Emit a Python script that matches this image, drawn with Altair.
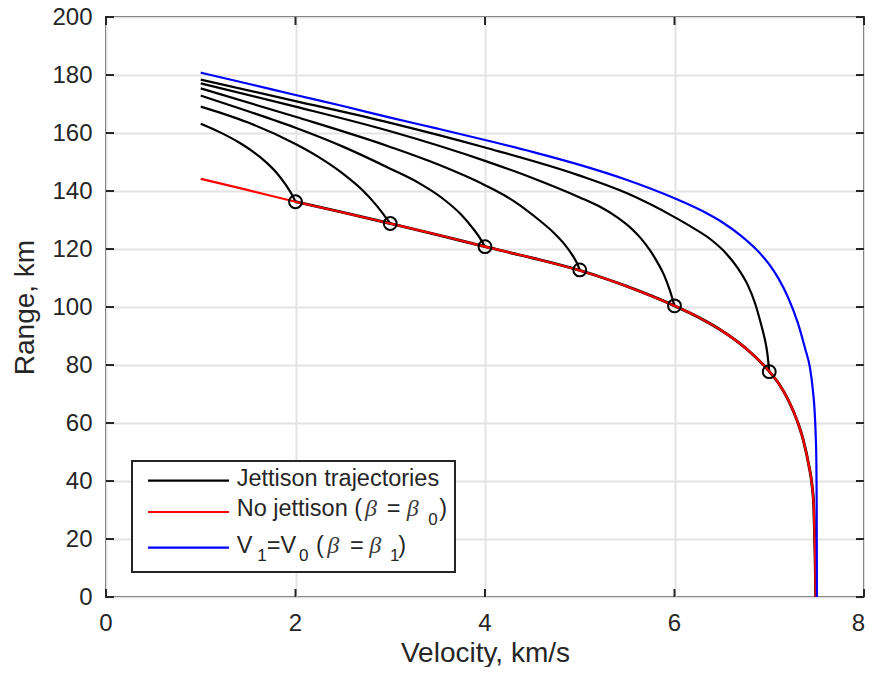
import altair as alt
import pandas as pd

# ---------------- data ----------------
X_TICKS = [0, 2, 4, 6, 8]
Y_TICKS = [0, 20, 40, 60, 80, 100, 120, 140, 160, 180, 200]

# No jettison (beta = beta0)  -- red
RED_V = [1.0, 1.5, 2.0, 2.5, 3.0, 3.5, 4.0, 4.5, 5.0, 5.25, 5.5, 5.75, 6.0, 6.25, 6.5,
         6.75, 7.0, 7.1, 7.2, 7.3, 7.36, 7.42, 7.45, 7.47, 7.478, 7.484, 7.488, 7.49]
RED_R = [144.2, 140.3, 136.3, 132.6, 128.8, 124.9, 120.8, 116.9, 112.6, 110.0, 107.1,
         103.9, 100.4, 96.5, 91.8, 85.8, 77.8, 73.6, 68.0, 60.3, 54.0, 45.0, 39.0, 31.0,
         22.0, 14.0, 6.0, 0.0]

# V1 = V0 (beta = beta1)  -- blue
BLUE_V = [1.0, 1.5, 2.0, 2.5, 3.0, 3.5, 4.0, 4.5, 5.0, 5.5, 6.0, 6.3, 6.5, 6.7, 6.9,
          7.0, 7.1, 7.2, 7.3, 7.38, 7.43, 7.46, 7.48, 7.49, 7.497, 7.5, 7.502, 7.503]
BLUE_R = [180.8, 177.0, 173.1, 169.3, 165.3, 161.5, 157.6, 153.5, 149.0, 143.8, 137.5,
          133.0, 129.3, 124.6, 118.6, 114.7, 109.7, 103.2, 94.7, 85.5, 79.0, 71.5, 63.5,
          56.0, 47.0, 35.0, 15.0, 0.0]

# Jettison trajectories -- black
J1_V = [1.0, 1.2, 1.4, 1.55, 1.7, 1.8, 1.9, 1.96, 2.0]
J1_R = [163.2, 160.3, 156.8, 153.6, 149.6, 146.3, 142.0, 138.9, 136.3]

J2_V = [1.0, 1.25, 1.5, 2.0, 2.25, 2.5, 2.7, 2.85, 2.95, 3.0]
J2_R = [169.1, 166.5, 163.6, 156.2, 151.6, 146.0, 140.5, 135.2, 131.0, 128.8]

J3_V = [1.0, 1.5, 2.0, 2.5, 3.0, 3.3, 3.55, 3.75, 3.87, 3.95, 4.0]
J3_R = [172.9, 167.5, 161.8, 155.3, 147.7, 142.8, 137.5, 131.8, 127.2, 123.6, 120.8]

J4_V = [1.0, 2.0, 3.0, 3.5, 4.0, 4.3, 4.57, 4.72, 4.84, 4.92, 4.97, 5.0]
J4_R = [175.4, 165.6, 155.2, 149.2, 142.0, 136.6, 130.0, 125.8, 121.6, 118.0, 115.2, 112.8]

J5_V = [1.0, 2.0, 3.0, 4.0, 4.5, 5.0, 5.2, 5.4, 5.55, 5.65, 5.74, 5.82, 5.89, 5.95, 6.0]
J5_R = [177.1, 169.1, 160.6, 150.4, 144.5, 137.8, 134.8, 130.8, 126.9, 123.5, 119.6,
        115.4, 111.0, 105.8, 100.4]

J6_V = [1.0, 2.0, 3.0, 4.0, 5.0, 5.5, 6.0, 6.2, 6.39, 6.55, 6.67, 6.77, 6.85, 6.91,
        6.955, 6.98, 7.0]
J6_R = [178.4, 171.0, 163.5, 155.0, 145.3, 139.2, 131.0, 127.2, 123.1, 118.3, 113.3,
        107.8, 101.3, 94.5, 88.6, 84.0, 77.7]

# jettison points (markers)
MARK_V = [2.0, 3.0, 4.0, 5.0, 6.0, 7.0]
MARK_R = [136.3, 128.8, 120.8, 112.8, 100.4, 77.7]

LEGEND_LABELS = ["Jettison trajectories", "No jettison (", "V", "=V"]

# ---------------- tables ----------------
def table(vs, rs, name):
    return pd.DataFrame({"V": vs, "R": rs, "curve": name})

black_df = pd.concat([
    table(J1_V, J1_R, "j1"), table(J2_V, J2_R, "j2"), table(J3_V, J3_R, "j3"),
    table(J4_V, J4_R, "j4"), table(J5_V, J5_R, "j5"), table(J6_V, J6_R, "j6"),
], ignore_index=True)
red_df = table(RED_V, RED_R, "red")
blue_df = table(BLUE_V, BLUE_R, "blue")
mark_df = pd.DataFrame({"V": MARK_V, "R": MARK_R})
xt = pd.DataFrame({"V": X_TICKS, "lab": [str(t) for t in X_TICKS]})
yt = pd.DataFrame({"R": Y_TICKS})

W, H = 758, 580
AX = "#262626"
FONT = "Liberation Sans"
LW = 2.2

xscale = alt.Scale(domain=[0, 8], nice=False, zero=False)
yscale = alt.Scale(domain=[0, 200], nice=False, zero=False)

x_axis = alt.Axis(values=X_TICKS, title="Velocity, km/s", grid=True, gridColor="#e3e3e3",
                  gridWidth=2, ticks=False, domain=False, labels=False,
                  titleFont=FONT, titleFontSize=28,
                  titleFontWeight="normal", titleColor=AX, titleBaseline="alphabetic",
                  titleY=64)
y_axis = alt.Axis(values=Y_TICKS, title="Range, km", grid=True, gridColor="#e3e3e3",
                  gridWidth=2, ticks=False, domain=False, labelPadding=14,
                  labelFont=FONT, labelFontSize=24, labelColor=AX, labelFlush=False,
                  labelOverlap=False, titleFont=FONT, titleFontSize=28,
                  titleFontWeight="normal", titleColor=AX, titleBaseline="alphabetic",
                  titleX=-73)

X = alt.X("V:Q", scale=xscale, axis=x_axis)
Y = alt.Y("R:Q", scale=yscale, axis=y_axis)

black_lines = alt.Chart(black_df).mark_line(color="black", strokeWidth=LW, interpolate="monotone").encode(
    x=X, y=Y, detail="curve:N")
red_under = alt.Chart(red_df).transform_filter(alt.datum.V >= 2).mark_line(
    color="black", strokeWidth=LW + 0.7, interpolate="monotone").encode(x=X, y=Y)
red_line = alt.Chart(red_df).mark_line(color="#ff0000", strokeWidth=LW, interpolate="monotone").encode(x=X, y=Y)
blue_line = alt.Chart(blue_df).mark_line(color="#0000ff", strokeWidth=LW, interpolate="monotone").encode(x=X, y=Y)
markers = alt.Chart(mark_df).mark_point(shape="circle", size=165, filled=False, color="black",
                                        strokeWidth=2, opacity=1).encode(x=X, y=Y)

# inward ticks on all four sides
TL = 8
tick_b = alt.Chart(xt).mark_rule(color=AX, strokeWidth=2).encode(
    x=X, y=alt.value(H), y2=alt.value(H - TL))
tick_t = alt.Chart(xt).mark_rule(color=AX, strokeWidth=2).encode(
    x=X, y=alt.value(0), y2=alt.value(TL))
tick_l = alt.Chart(yt).mark_rule(color=AX, strokeWidth=2).encode(
    y=Y, x=alt.value(0), x2=alt.value(TL))
tick_r = alt.Chart(yt).mark_rule(color=AX, strokeWidth=2).encode(
    y=Y, x=alt.value(W), x2=alt.value(W - TL))

# x tick labels (the last one kept inside the page)
xlab = alt.Chart(xt).transform_filter(alt.datum.V < 8).mark_text(
    align="center", baseline="alphabetic", font=FONT, fontSize=24, color=AX).encode(
    x=X, y=alt.value(H + 34), text="lab:N")
xlab_last = alt.Chart(xt).transform_filter(alt.datum.V == 8).mark_text(
    align="right", baseline="alphabetic", font=FONT, fontSize=24, color=AX, dx=1).encode(
    x=X, y=alt.value(H + 34), text="lab:N")

# ---------------- legend ----------------
one = alt.Data(values=[{"k": 0}])

def seg(s, x, y, size=23.5, italic=False, serif=False, color=AX):
    kw = dict(text=s, align="left", baseline="alphabetic",
              font="Liberation Serif" if serif else FONT, fontSize=size, color=color)
    if italic:
        kw["fontStyle"] = "italic"
    return alt.Chart(one).mark_text(**kw).encode(x=alt.value(x), y=alt.value(y))

def sample(color, y):
    return alt.Chart(one).mark_rule(color=color, strokeWidth=LW).encode(
        x=alt.value(42), x2=alt.value(123), y=alt.value(y))

legend_box = alt.Chart(one).mark_rect(fill="white", stroke=AX, strokeWidth=2).encode(
    x=alt.value(26), x2=alt.value(349), y=alt.value(444), y2=alt.value(555))

B = "#3c3c3c"
legend = [
    legend_box,
    sample("black", 463.7), sample("#ff0000", 495), sample("#0000ff", 530.7),
    seg(LEGEND_LABELS[0], 130.7, 468.7),
    seg(LEGEND_LABELS[1], 130.7, 498.7),
    seg("\u03b2", 259, 498.7, size=24, italic=True, serif=True, color=B),
    seg("=", 280.7, 498.7),
    seg("\u03b2", 300.7, 498.7, size=24, italic=True, serif=True, color=B),
    seg("0", 322.3, 508, size=17),
    seg(")", 333.3, 498.7),
    seg(LEGEND_LABELS[2], 130.7, 535.7),
    seg("1", 151.3, 544, size=17),
    seg(LEGEND_LABELS[3], 160.7, 535.7),
    seg("0", 193, 544, size=17),
    seg("(", 210, 535.7),
    seg("\u03b2", 221.3, 535.7, size=24, italic=True, serif=True, color=B),
    seg("=", 244, 535.7),
    seg("\u03b2", 263.3, 535.7, size=24, italic=True, serif=True, color=B),
    seg("1", 284, 544, size=17),
    seg(")", 292.3, 535.7),
]

chart = alt.layer(
    black_lines, red_under, red_line, blue_line, markers,
    tick_b, tick_t, tick_l, tick_r, xlab, xlab_last,
    *legend,
).properties(
    width=W, height=H,
    autosize=alt.AutoSizeParams(type="none"),
    padding={"left": 98, "top": 9, "right": 1, "bottom": 70},
    background="white",
).configure_view(stroke=AX, strokeWidth=2)

chart.save("out.html", embed_options={"renderer": "svg", "actions": False})
